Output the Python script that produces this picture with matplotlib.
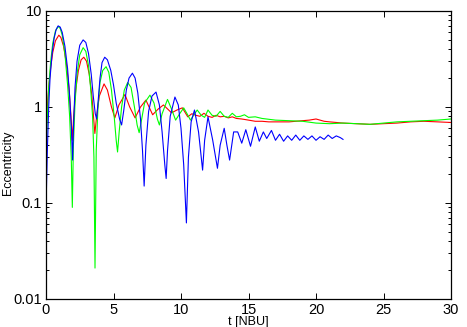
import numpy as np
import matplotlib
matplotlib.use('Agg')
import matplotlib.pyplot as plt
from matplotlib.ticker import LogLocator, FixedLocator, FuncFormatter

plt.rcParams['font.family'] = ['Liberation Sans', 'DejaVu Sans']

# eccentricity vs time
t_red = [0.0, 0.1, 0.2, 0.35, 0.5, 0.7, 0.95, 1.1, 1.3, 1.5, 1.7, 1.85, 1.95,
         2.05, 2.2, 2.4, 2.6, 2.8, 3.0, 3.2, 3.4, 3.55, 3.62, 3.75, 3.95,
         4.3, 4.55, 4.85, 5.1, 5.4, 5.85, 6.2, 6.6, 7.0, 7.4, 7.9, 8.3, 8.7,
         9.3, 9.7, 10.1, 10.5, 10.8, 11.1, 11.4, 11.7, 12.0, 12.3, 12.6,
         12.9, 13.2, 13.5, 13.8, 14.1, 14.5, 15.0, 15.5, 16.0, 16.5, 17.0,
         17.5, 18.0, 18.5, 19.0, 19.5, 20.0, 20.3, 20.6, 21.0, 21.5, 22.0,
         23.0, 24.0, 25.0, 26.0, 27.0, 28.0, 29.0, 30.0]
e_red = [0.5, 1.0, 1.6, 2.6, 3.7, 4.9, 5.6, 5.3, 4.3, 2.9, 1.6, 0.8, 0.45,
         0.8, 1.5, 2.4, 3.1, 3.3, 3.0, 2.2, 1.3, 0.7, 0.53, 0.8, 1.3,
         1.74, 1.5, 1.0, 0.77, 1.05, 1.35, 1.0, 0.77, 1.0, 1.18, 0.83, 0.95,
         1.05, 0.87, 0.93, 0.98, 0.79, 0.85, 0.82, 0.8, 0.86, 0.8, 0.78,
         0.82, 0.79, 0.8, 0.77, 0.79, 0.76, 0.75, 0.73, 0.71, 0.71, 0.70,
         0.70, 0.70, 0.70, 0.71, 0.72, 0.73, 0.75, 0.73, 0.71, 0.70, 0.69,
         0.68, 0.67, 0.66, 0.67, 0.68, 0.70, 0.71, 0.70, 0.69]

t_green = [0.0, 0.1, 0.2, 0.35, 0.5, 0.7, 0.9, 1.05, 1.2, 1.4, 1.6, 1.75,
           1.87, 1.95, 2.03, 2.15, 2.3, 2.5, 2.75, 2.95, 3.15, 3.3, 3.45,
           3.55, 3.63, 3.72, 3.85, 4.0, 4.2, 4.45, 4.65, 4.85, 5.05, 5.2,
           5.3, 5.42, 5.6, 5.8, 6.05, 6.3, 6.55, 6.75, 6.9, 7.05, 7.3, 7.7,
           8.0, 8.25, 8.4, 8.6, 9.0, 9.3, 9.6, 9.9, 10.2, 10.45, 10.7, 10.95,
           11.2, 11.5, 11.75, 12.0, 12.3, 12.6, 12.9, 13.2, 13.5, 13.8, 14.1,
           14.4, 14.7, 15.0, 15.5, 16.0, 17.0, 18.0, 19.0, 20.0, 21.0, 22.0,
           23.0, 24.0, 25.0, 26.0, 27.0, 28.0, 29.0, 30.0]
e_green = [0.3, 0.8, 1.6, 3.0, 4.6, 6.2, 6.9, 6.6, 5.6, 3.6, 1.7, 0.8,
           0.3, 0.09, 0.4, 1.1, 2.2, 3.5, 4.15, 3.8, 2.7, 1.6, 0.8,
           0.3, 0.021, 0.35, 1.0, 1.8, 2.4, 2.63, 2.3, 1.5, 0.8, 0.45,
           0.34, 0.55, 1.0, 1.5, 1.8, 1.6, 1.0, 0.65, 0.54, 0.7, 1.1, 1.33,
           1.1, 0.75, 0.65, 0.85, 1.2, 0.95, 0.73, 0.85, 0.98, 0.85, 0.73,
           0.83, 0.93, 0.82, 0.78, 0.93, 0.82, 0.8, 0.9, 0.8, 0.78, 0.86,
           0.79, 0.8, 0.83, 0.78, 0.79, 0.76, 0.73, 0.72, 0.71, 0.68, 0.67,
           0.68, 0.67, 0.66, 0.68, 0.70, 0.71, 0.72, 0.73, 0.75]

t_blue = [0.0, 0.1, 0.2, 0.3, 0.45, 0.6, 0.75, 0.9, 1.05, 1.2, 1.4, 1.6,
          1.75, 1.88, 1.97, 2.05, 2.15, 2.3, 2.5, 2.75, 2.95, 3.15, 3.35,
          3.5, 3.65, 3.75, 3.85, 4.0, 4.15, 4.35, 4.55, 4.8, 5.0, 5.2, 5.45,
          5.6, 5.75, 5.95, 6.15, 6.4, 6.6, 6.8, 7.0, 7.15, 7.27, 7.4, 7.6,
          7.85, 8.15, 8.4, 8.6, 8.8, 8.9, 9.0, 9.2, 9.55, 9.8, 10.0, 10.2,
          10.4, 10.55, 10.75, 11.0, 11.3, 11.6, 11.75, 12.0, 12.35, 12.7,
          12.9, 13.2, 13.4, 13.6, 13.9, 14.2, 14.5, 14.8, 15.15, 15.5, 15.8,
          16.1, 16.35, 16.7, 17.0, 17.3, 17.6, 17.9, 18.2, 18.5, 18.8, 19.1,
          19.4, 19.7, 20.0, 20.3, 20.6, 20.9, 21.2, 21.5, 21.8, 22.0]
e_blue = [0.09, 0.35, 1.0, 2.0, 3.6, 5.2, 6.4, 7.0, 6.8, 6.0, 4.3, 2.5,
          1.3, 0.6, 0.28, 0.7, 1.6, 3.0, 4.4, 5.0, 4.7, 3.6, 2.2,
          1.3, 0.85, 0.75, 1.1, 2.0, 2.9, 3.3, 3.1, 2.4, 1.7, 1.1, 0.75,
          0.65, 0.9, 1.5, 2.0, 2.25, 2.0, 1.4, 0.75, 0.35, 0.15, 0.4, 0.9,
          1.3, 1.43, 1.05, 0.55, 0.25, 0.18, 0.35, 0.8, 1.27, 1.05, 0.6, 0.25,
          0.062, 0.3, 0.7, 0.93, 0.55, 0.22, 0.45, 0.79, 0.45, 0.23,
          0.4, 0.6, 0.4, 0.28, 0.55, 0.55, 0.42, 0.58, 0.39, 0.62, 0.44,
          0.55, 0.47, 0.57, 0.45, 0.52, 0.44, 0.5, 0.45, 0.51, 0.45, 0.5,
          0.46, 0.5, 0.45, 0.49, 0.46, 0.51, 0.47, 0.5, 0.48, 0.46]

fig = plt.figure(figsize=(4.67, 3.27), dpi=100)
ax = fig.add_axes([46/467, 1-299/327, (451-46)/467, (299-11)/327])

ax.plot(t_red, e_red, color='#ff0000', lw=0.8)
ax.plot(t_green, e_green, color='#00ff00', lw=0.8)
ax.plot(t_blue, e_blue, color='#0000ff', lw=0.8)

ax.set_yscale('log')
ax.set_xlim(0, 30)
ax.set_ylim(0.01, 10)
ax.xaxis.set_major_locator(FixedLocator([0, 5, 10, 15, 20, 25, 30]))
ax.yaxis.set_major_locator(FixedLocator([0.01, 0.1, 1, 10]))
ax.yaxis.set_minor_locator(LogLocator(base=10, subs=np.arange(2, 10)))
ax.yaxis.set_major_formatter(FuncFormatter(lambda v, p: '%g' % v))
ax.yaxis.set_minor_formatter(FuncFormatter(lambda v, p: ''))

ax.tick_params(which='both', direction='in', top=True, right=True,
               labelsize=10.5, width=0.7)
ax.tick_params(axis='x', pad=3)
ax.tick_params(axis='y', pad=3)
ax.tick_params(which='major', length=4.5)
ax.tick_params(which='minor', length=2.5)
for s in ax.spines.values():
    s.set_linewidth(0.9)

ax.set_xlabel('t [NBU]', fontsize=9, labelpad=-1)
# y label placed by hand, it sits a bit below the axis centre
fig.text(8/467, 1-163/327, 'Eccentricity', fontsize=9, rotation=90,
         ha='center', va='center')

fig.savefig('out.png', dpi=100)
